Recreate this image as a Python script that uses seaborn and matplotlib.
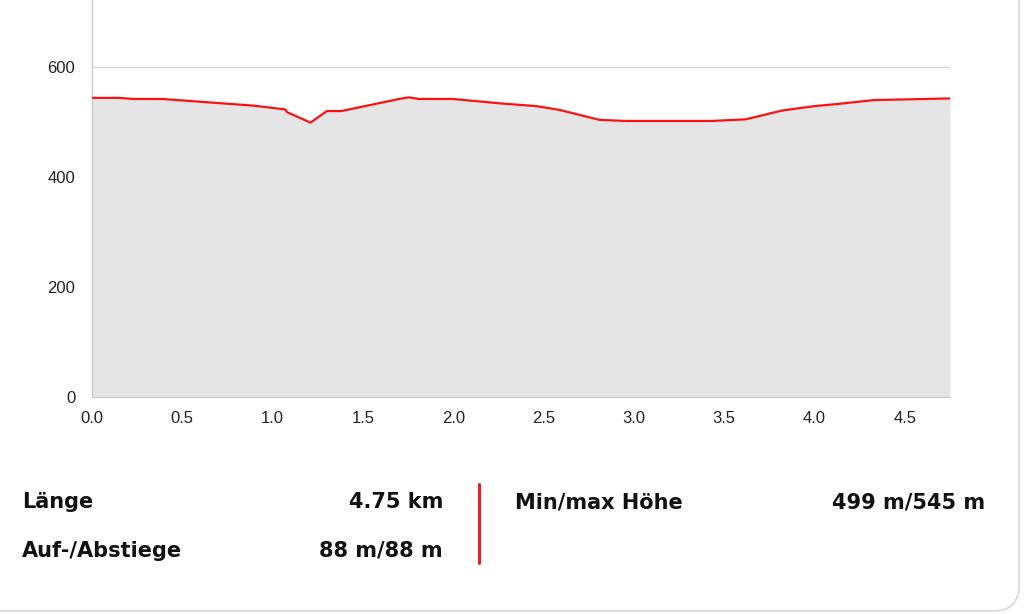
import matplotlib
matplotlib.use("Agg")
import matplotlib.pyplot as plt
from matplotlib.patches import FancyBboxPatch
import seaborn as sns
import pandas as pd

# distance (km) and elevation (m)
distance_km = [0.00, 0.15, 0.23, 0.39, 0.89, 1.07, 1.08, 1.21, 1.30, 1.38,
               1.70, 1.754, 1.81, 2.00, 2.26, 2.46, 2.59, 2.81, 2.96, 3.43,
               3.62, 3.82, 3.91, 4.00, 4.13, 4.33, 4.75]
elevation_m = [544, 544, 542, 542, 530, 523, 518, 499, 520, 520,
               542, 545, 542, 542, 534, 529, 522, 504, 502, 502,
               505, 521, 525, 529, 533, 540, 543]

x_ticks = [0.0, 0.5, 1.0, 1.5, 2.0, 2.5, 3.0, 3.5, 4.0, 4.5]
y_ticks = [0, 200, 400, 600]

stat_labels_left = ["Länge", "Auf-/Abstiege"]
stat_values_left = ["4.75 km", "88 m/88 m"]
stat_labels_right = ["Min/max Höhe"]
stat_values_right = ["499 m/545 m"]

df = pd.DataFrame({"km": distance_km, "m": elevation_m})

sns.set_style("white")
plt.rcParams["font.family"] = ["Liberation Sans", "DejaVu Sans"]

W, H = 1024, 614
fig = plt.figure(figsize=(W / 100, H / 100), dpi=100)
ax = fig.add_axes([92 / W, 1 - 397 / H, (950 - 92) / W, 397 / H])

ax.set_axisbelow(True)
ax.yaxis.grid(True, color="#d6d6d6", linewidth=1)
ax.fill_between(df["km"], df["m"], 0, color="#e5e5e5", linewidth=0, zorder=2)
sns.lineplot(data=df, x="km", y="m", ax=ax, color="#ff1010", linewidth=1.6, zorder=3)

ax.set_xlim(0, 4.75)
ax.set_ylim(0, 722)
ax.set_xticks(x_ticks + [4.75])
ax.set_xticklabels([f"{t:.1f}" for t in x_ticks] + [""])
ax.set_yticks(y_ticks)
ax.set_xlabel("")
ax.set_ylabel("")
for s in ["top", "right"]:
    ax.spines[s].set_visible(False)
for s in ["left", "bottom"]:
    ax.spines[s].set_color("#cccccc")
    ax.spines[s].set_linewidth(1)
ax.tick_params(axis="both", colors="#cccccc", labelcolor="#222222",
               labelsize=12, length=7, width=1)
ax.tick_params(axis="y", pad=5)
ax.tick_params(axis="x", length=6, pad=4)

def px(x, y):
    return x / W, 1 - y / H

bold = dict(fontsize=15, fontweight="bold", family="DejaVu Sans", color="#111111")
rows_y = [508, 557]
for lab, val, yy in zip(stat_labels_left, stat_values_left, rows_y):
    fig.text(*px(22, yy), lab, ha="left", va="baseline", **bold)
    fig.text(*px(443, yy), val, ha="right", va="baseline", **bold)
for lab, val, yy in zip(stat_labels_right, stat_values_right, rows_y):
    fig.text(*px(515, yy), lab, ha="left", va="baseline", **bold)
    fig.text(*px(985, yy), val, ha="right", va="baseline", **bold)

fig.add_artist(plt.Line2D([479 / W, 479 / W], [1 - 484 / H, 1 - 563 / H],
                          transform=fig.transFigure, color="#e8202a", linewidth=2.2))

border = FancyBboxPatch((-40 / W, 1 - 611 / H), (1019 + 40) / W, (611 + 40) / H,
                        boxstyle="round,pad=0,rounding_size=0.025",
                        transform=fig.transFigure, facecolor="none",
                        edgecolor="#d9d9d9", linewidth=1.2, mutation_aspect=W / H)
fig.add_artist(border)

fig.savefig("out.png", dpi=100)
